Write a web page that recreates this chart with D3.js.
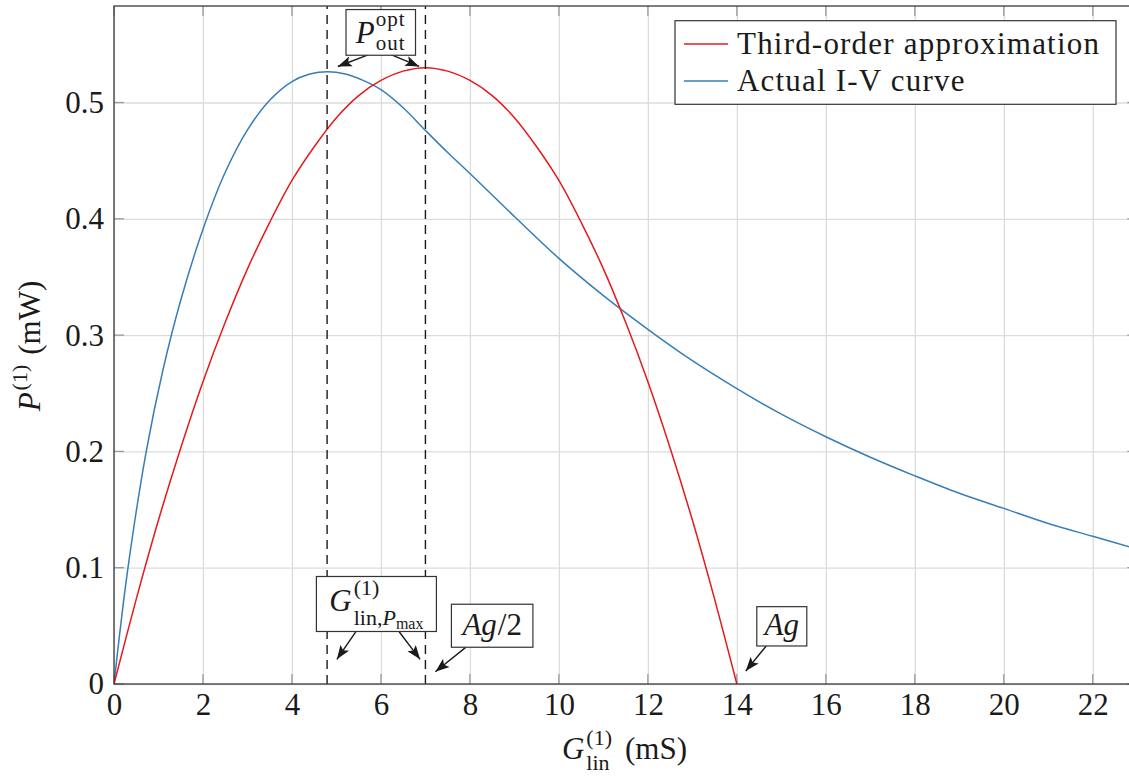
<!DOCTYPE html>
<html>
<head>
<meta charset="utf-8">
<script src="https://cdn.jsdelivr.net/npm/d3@7"></script>
<style>
  html, body { margin: 0; padding: 0; background: #ffffff; }
  svg text { font-family: "Liberation Serif", "Times New Roman", serif; fill: #1a1a1a; }
</style>
</head>
<body>
<svg id="chart" width="1129" height="776"></svg>
<script>
// ---- data -------------------------------------------------------------
// Tick values
const xTicks = [0, 2, 4, 6, 8, 10, 12, 14, 16, 18, 20, 22];
const yTicks = [0, 0.1, 0.2, 0.3, 0.4, 0.5];

// Third-order approximation: P(1) (mW) versus G_lin(1) (mS)
const approxG = [0, 0.5, 1, 1.5, 2, 2.5, 3, 3.5, 4, 4.5, 5, 5.5, 6, 6.5, 7,
                 7.5, 8, 8.5, 9, 9.5, 10, 10.5, 11, 11.5, 12, 12.5, 13, 13.5, 14];
const approxP = [0, 0.073, 0.141, 0.203, 0.260, 0.311, 0.357, 0.397, 0.433, 0.462, 0.487, 0.506, 0.519, 0.527, 0.530,
                 0.527, 0.519, 0.506, 0.487, 0.462, 0.433, 0.397, 0.357, 0.311, 0.260, 0.203, 0.141, 0.073, 0];

// Actual I-V curve
const actualG = [0, 0.3, 0.72, 1.1, 1.5, 2, 2.5, 3, 3.5, 4, 4.4, 4.8, 5.2, 5.6, 6, 6.5, 7, 7.5, 8,
                 9, 10, 11, 12, 13, 14, 15, 16, 17, 18, 19, 20, 21, 22, 23];
const actualP = [0, 0.096, 0.199, 0.270, 0.330, 0.391, 0.440, 0.4765, 0.502, 0.518, 0.5245, 0.5265, 0.5245, 0.519, 0.511, 0.4955, 0.476, 0.457, 0.439,
                 0.402, 0.366, 0.334, 0.305, 0.278, 0.254, 0.232, 0.2126, 0.195, 0.179, 0.164, 0.151, 0.138, 0.127, 0.116];

// Conductances marked with dashed lines: G_lin at P_max (actual) and Ag/2
const markerG = [4.79, 7];

const seriesNames = ["Third-order approximation", "Actual I-V curve"];
const seriesColors = ["#e41a1c", "#377eb8"];

// ---- layout -----------------------------------------------------------
const svg = d3.select("#chart");
const plotLeft = 114, plotTop = 6, plotBottom = 684;
const xMax = 23, yMax = 0.583;
const pxPerG = 44.49;
const plotRight = plotLeft + xMax * pxPerG;

const x = d3.scaleLinear().domain([0, xMax]).range([plotLeft, plotRight]);
const y = d3.scaleLinear().domain([0, yMax]).range([plotBottom, plotTop]);

const FS = 31;      // main font size
const FS_S = 22;    // script size

const defs = svg.append("defs");
defs.append("clipPath").attr("id", "plotClip")
  .append("rect").attr("x", plotLeft).attr("y", plotTop)
  .attr("width", plotRight - plotLeft).attr("height", plotBottom - plotTop);
defs.append("marker")
  .attr("id", "arrowHead").attr("markerUnits", "userSpaceOnUse")
  .attr("markerWidth", 16).attr("markerHeight", 12)
  .attr("refX", 14).attr("refY", 6).attr("orient", "auto")
  .append("path").attr("d", "M0,0.8 L14,6 L0,11.2 L3,6 Z").attr("fill", "#1a1a1a");

// ---- grid -------------------------------------------------------------
const grid = svg.append("g");
grid.append("g").attr("transform", `translate(0,${plotBottom})`)
  .call(d3.axisBottom(x).tickValues(xTicks).tickSize(-(plotBottom - plotTop)).tickFormat(""))
  .call(g => g.select(".domain").remove())
  .call(g => g.selectAll("line").attr("stroke", "#dcdcdc").attr("stroke-width", 1.3));
grid.append("g").attr("transform", `translate(${plotLeft},0)`)
  .call(d3.axisLeft(y).tickValues(yTicks).tickSize(-(plotRight - plotLeft)).tickFormat(""))
  .call(g => g.select(".domain").remove())
  .call(g => g.selectAll("line").attr("stroke", "#dcdcdc").attr("stroke-width", 1.3));

// inner tick marks on all four sides
const tickLen = 10, tickCol = "#9a9a9a";
const tk = svg.append("g").attr("stroke", tickCol).attr("stroke-width", 1.3);
tk.selectAll(".tb").data(xTicks).join("line").attr("class", "tb")
  .attr("x1", d => x(d)).attr("x2", d => x(d)).attr("y1", plotBottom).attr("y2", plotBottom - tickLen);
tk.selectAll(".tt").data(xTicks).join("line").attr("class", "tt")
  .attr("x1", d => x(d)).attr("x2", d => x(d)).attr("y1", plotTop).attr("y2", plotTop + tickLen);
tk.selectAll(".tl").data(yTicks).join("line").attr("class", "tl")
  .attr("y1", d => y(d)).attr("y2", d => y(d)).attr("x1", plotLeft).attr("x2", plotLeft + tickLen);
tk.selectAll(".tr").data(yTicks).join("line").attr("class", "tr")
  .attr("y1", d => y(d)).attr("y2", d => y(d)).attr("x1", plotRight).attr("x2", plotRight - tickLen);

// ---- curves -----------------------------------------------------------
const line = d3.line().x(d => x(d[0])).y(d => y(d[1])).curve(d3.curveCatmullRom.alpha(0.5));
const curves = svg.append("g").attr("clip-path", "url(#plotClip)");
curves.append("path").datum(actualG.map((g, i) => [g, actualP[i]]))
  .attr("d", line).attr("fill", "none").attr("stroke", seriesColors[1]).attr("stroke-width", 1.5);
curves.append("path").datum(approxG.map((g, i) => [g, approxP[i]]))
  .attr("d", line).attr("fill", "none").attr("stroke", seriesColors[0]).attr("stroke-width", 1.5);

// dashed marker lines
svg.append("g").selectAll("line").data(markerG).join("line")
  .attr("x1", d => x(d)).attr("x2", d => x(d)).attr("y1", plotBottom).attr("y2", plotTop)
  .attr("stroke", "#1a1a1a").attr("stroke-width", 1.4).attr("stroke-dasharray", "9,6");

// ---- axes frame -------------------------------------------------------
svg.append("rect").attr("x", plotLeft).attr("y", plotTop)
  .attr("width", plotRight - plotLeft).attr("height", plotBottom - plotTop)
  .attr("fill", "none").attr("stroke", "#3a3a3a").attr("stroke-width", 1.3);

// tick labels
svg.append("g").attr("transform", `translate(0,${plotBottom})`)
  .call(d3.axisBottom(x).tickValues(xTicks).tickSize(0).tickPadding(9).tickFormat(d3.format("d")))
  .call(g => g.select(".domain").remove())
  .call(g => g.selectAll("text").attr("font-size", FS).attr("font-family", null));
svg.append("g").attr("transform", `translate(${plotLeft},0)`)
  .call(d3.axisLeft(y).tickValues(yTicks).tickSize(0).tickPadding(10)
    .tickFormat(d => d === 0 ? "0" : d3.format(".1f")(d)))
  .call(g => g.select(".domain").remove())
  .call(g => g.selectAll("text").attr("font-size", FS).attr("font-family", null));

// ---- helpers for math-style labels ------------------------------------
// pieces: {t | spans, size, it, dy, gap, stack, ls}
function compose(parent, pieces) {
  let cursor = 0, colStart = 0, colW = 0;
  pieces.forEach(p => {
    const t = parent.append("text").attr("y", p.dy || 0)
      .style("font-size", p.size + "px").style("font-style", p.it ? "italic" : "normal");
    if (p.ls) t.style("letter-spacing", p.ls + "px");
    if (p.spans) {
      p.spans.forEach(s => {
        const ts = t.append("tspan").text(s.t);
        if (s.it) ts.style("font-style", "italic");
        if (s.size) ts.style("font-size", s.size + "px");
        if (s.dy) ts.attr("dy", s.dy);
      });
    } else {
      t.text(p.t);
    }
    let px;
    if (p.stack) {
      px = colStart;
    } else {
      cursor += (p.gap || 0);
      px = cursor;
      colStart = px;
      colW = 0;
    }
    t.attr("x", px);
    const w = t.node().getComputedTextLength();
    colW = Math.max(colW, w);
    cursor = colStart + colW;
  });
  return cursor;
}
function placeCentered(g, width, cx, baseY) {
  g.attr("transform", `translate(${cx - width / 2},${baseY})`);
}

// ---- axis titles ------------------------------------------------------
{
  const g = svg.append("g");
  const w = compose(g, [
    { t: "G", size: FS, it: true },
    { t: "(1)", size: FS_S, dy: -14, gap: 2 },
    { t: "lin", size: FS_S, dy: 11, stack: true },
    { t: "(mS)", size: FS, gap: 13 }
  ]);
  placeCentered(g, w, 624.5, 759);
}
{
  const outer = svg.append("g").attr("transform", "translate(40,346) rotate(-90)");
  const g = outer.append("g");
  const w = compose(g, [
    { t: "P", size: FS, it: true },
    { t: "(1)", size: FS_S, dy: -13, gap: 2 },
    { t: "(mW)", size: FS, gap: 10 }
  ]);
  g.attr("transform", `translate(${-w / 2},0)`);
}

// ---- annotations --------------------------------------------------------
// Box centres and arrows are anchored in data coordinates (mS, mW).
const annotations = [
  { key: "popt", cx: 5.996, cy: 0.5603, w: 69.5, h: 45.7,
    arrows: [[5.71, 0.541, 5.03, 0.531], [6.24, 0.541, 6.86, 0.531]],
    pieces: [
      { t: "P", size: FS, it: true, dy: 11 },
      { t: "opt", size: 21, dy: -6.3, gap: 1, ls: 1 },
      { t: "out", size: 21, dy: 17.2, stack: true, ls: 1 }
    ] },
  { key: "gmax", cx: 5.898, cy: 0.0688, w: 120, h: 55,
    arrows: [[5.46, 0.0464, 5.01, 0.0212], [6.38, 0.0464, 6.88, 0.0212]],
    pieces: [
      { t: "G", size: FS, it: true, dy: 7.5 },
      { t: "(1)", size: FS_S, dy: -8.5, gap: 2 },
      { spans: [{ t: "lin," }, { t: "P", it: true }, { t: "max", size: 16, dy: 4 }], size: FS_S, dy: 20.8, stack: true }
    ] },
  { key: "ag2", cx: 8.50, cy: 0.0501, w: 81.5, h: 43,
    arrows: [[7.905, 0.0315, 7.224, 0.0106]],
    pieces: [
      { t: "Ag", size: FS, it: true, dy: 9.2 },
      { t: "/2", size: FS, dy: 9.2, gap: 1 }
    ] },
  { key: "ag", cx: 15.01, cy: 0.0496, w: 50, h: 39.3,
    arrows: [[14.66, 0.0327, 14.2, 0.0112]],
    pieces: [
      { t: "Ag", size: FS, it: true, dy: 8.7 }
    ] }
];

const ann = svg.append("g");
annotations.forEach(a => {
  const cx = x(a.cx), cy = y(a.cy);
  a.arrows.forEach(r => {
    ann.append("line")
      .attr("x1", x(r[0])).attr("y1", y(r[1])).attr("x2", x(r[2])).attr("y2", y(r[3]))
      .attr("stroke", "#1a1a1a").attr("stroke-width", 1.4).attr("marker-end", "url(#arrowHead)");
  });
  ann.append("rect")
    .attr("x", cx - a.w / 2).attr("y", cy - a.h / 2).attr("width", a.w).attr("height", a.h)
    .attr("fill", "#ffffff").attr("stroke", "#333333").attr("stroke-width", 1.2);
  const g = ann.append("g");
  const w = compose(g, a.pieces);
  placeCentered(g, w, cx, cy);
});

// ---- legend -----------------------------------------------------------
const legend = svg.append("g");
legend.append("rect").attr("x", 675).attr("y", 20.7).attr("width", 441).attr("height", 83.6)
  .attr("fill", "#ffffff").attr("stroke", "#333333").attr("stroke-width", 1.2);
seriesNames.forEach((name, i) => {
  const ly = 44 + i * 37;
  legend.append("line").attr("x1", 684).attr("x2", 728).attr("y1", ly).attr("y2", ly)
    .attr("stroke", seriesColors[i]).attr("stroke-width", 1.5);
  legend.append("text").attr("x", 737).attr("y", ly + 9.5)
    .style("font-size", FS + "px").style("letter-spacing", "1.2px").text(name);
});
</script>
</body>
</html>
